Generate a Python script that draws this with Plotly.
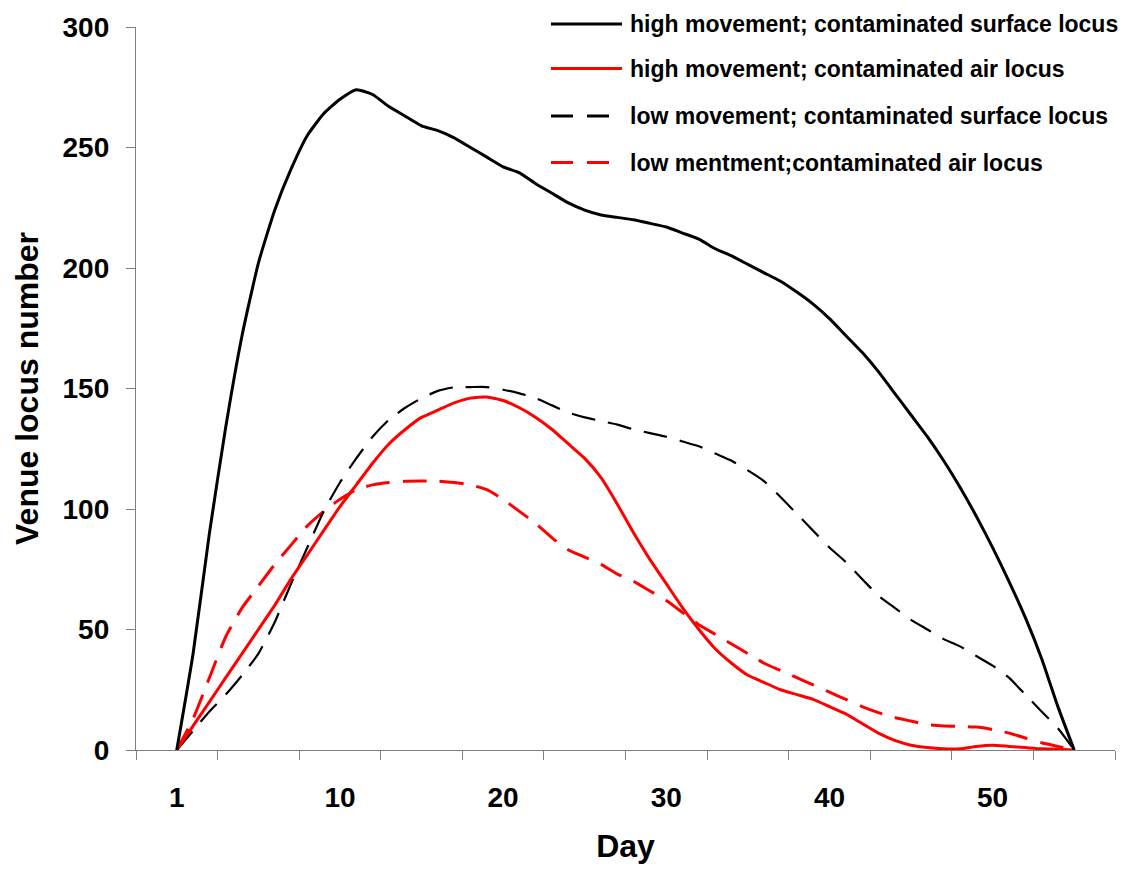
import plotly.graph_objects as go

# ---- data ----
day_index = list(range(56))
tick_positions = [0, 10, 20, 30, 40, 50]
tick_labels = ["1", "10", "20", "30", "40", "50"]

high_surface = [0, 40, 90, 134, 172, 202, 224, 241, 255, 264,
                270, 274, 272, 267, 263, 259, 257, 254, 250, 246,
                242, 239.5, 235, 231, 227, 224, 222, 221, 220, 218.5,
                217, 214.5, 212, 208, 205, 201.5, 198, 194.5, 190, 185,
                179, 172, 165, 157, 148, 139, 130, 120, 109, 97,
                84, 70, 55, 38, 18, 0]

high_air = [0, 10, 20, 30, 40, 50, 60, 71, 81, 91,
            101, 110, 119, 127, 133, 138, 141, 144, 146, 146.5,
            145, 142, 138, 133, 127, 121, 113, 102, 90, 79,
            69, 59, 50, 42, 36, 31, 28, 25, 23, 21,
            18, 15, 11, 7, 4, 2, 1, 0.5, 0.5, 1.5,
            2, 1.5, 1, 0.5, 0.3, 0]

low_surface = [0, 8, 16, 23, 31, 40, 53, 69, 84, 99,
               111, 121, 130, 137, 142, 146, 149, 150.5, 150.6, 150.6,
               149.5, 148, 146, 143, 140, 138, 136.5, 135, 133, 131.5,
               130, 128, 126, 123, 120, 116, 111.5, 105, 98, 91,
               84, 78, 71, 64, 59, 54, 50, 46, 43, 39,
               35, 30, 23, 16, 9, 0]

low_air = [0, 13, 30, 47, 59, 68, 77, 85, 93, 99,
           104, 108, 110, 111, 111.5, 111.6, 111.6, 111, 110, 108,
           104, 99, 94, 88, 83, 80, 77, 73, 70, 66,
           62, 57, 52, 48, 44, 40, 36, 33, 30, 27,
           24, 21, 18, 15.5, 13.5, 12, 10.5, 10, 9.8, 9.5,
           8.5, 7, 5, 3, 1.5, 0]

series_names = ["high movement; contaminated surface locus",
                "high movement; contaminated air locus",
                "low movement; contaminated surface locus",
                "low mentment;contaminated air locus"]

FONT = "Liberation Sans, Arial, sans-serif"
AXIS_COLOR = "#808080"
DASH = "24px,13px"

styles = [
    dict(color="black", width=3, dash="solid"),
    dict(color="#ff0000", width=3, dash="solid"),
    dict(color="black", width=2.2, dash=DASH),
    dict(color="#ff0000", width=3, dash=DASH),
]
series = [high_surface, high_air, low_surface, low_air]

fig = go.Figure()
# draw order: dashed first, solid on top
for idx in [3, 2, 1, 0]:
    fig.add_trace(go.Scatter(
        x=day_index, y=series[idx], mode="lines", name=series_names[idx],
        line=dict(shape="spline", smoothing=0.5, **styles[idx]),
        showlegend=False, hoverinfo="skip"))

# manual legend (Excel-like, long line samples)
plot_left, plot_right, plot_top, plot_bottom = 136, 1115, 21, 752
pw, ph = plot_right - plot_left, plot_bottom - plot_top
def px_x(px):
    return (px - plot_left) / pw
def px_y(py):
    return (plot_bottom - py) / ph

legend_rows = [18, 63, 111, 158]
shapes = []
annotations = []
for i, row in enumerate(legend_rows):
    st = styles[i]
    shapes.append(dict(type="line", xref="paper", yref="paper",
                       x0=px_x(551), x1=px_x(622), y0=px_y(row), y1=px_y(row),
                       line=dict(color=st["color"], width=3,
                                 dash=("solid" if st["dash"] == "solid" else "22px,14px"))))
    annotations.append(dict(xref="paper", yref="paper", x=px_x(628), y=px_y(row),
                            xanchor="left", yanchor="middle", showarrow=False,
                            text="<b>%s</b>" % series_names[i],
                            font=dict(family=FONT, size=23, color="black")))

fig.update_layout(
    width=1133, height=869,
    margin=dict(l=plot_left, r=1133 - plot_right, t=plot_top, b=869 - plot_bottom),
    paper_bgcolor="white", plot_bgcolor="white",
    font=dict(family=FONT, color="black"),
    shapes=shapes, annotations=annotations,
    showlegend=False,
    xaxis=dict(
        range=[-2.5, 57.5], tickmode="array", tickvals=tick_positions,
        ticktext=["<b>%s</b>" % t for t in tick_labels],
        ticks="", ticklabelstandoff=22,
        tickfont=dict(family=FONT, size=28, color="black"),
        showgrid=False, zeroline=False,
        showline=True, linecolor=AXIS_COLOR, linewidth=1.3,
        minor=dict(ticks="outside", ticklen=9, tickcolor=AXIS_COLOR, tickwidth=1.3,
                   tickmode="linear", tick0=-2.5, dtick=5, showgrid=False),
        title=dict(text="<b>Day</b>", font=dict(family=FONT, size=32, color="black"),
                   standoff=22),
    ),
    yaxis=dict(
        range=[0, 300], tickmode="linear", tick0=0, dtick=50,
        ticks="outside", ticklen=9, tickcolor=AXIS_COLOR, tickwidth=1.3,
        ticklabelstandoff=11,
        tickfont=dict(family=FONT, size=28, color="black"),
        tickprefix="<b>", ticksuffix="</b>",
        showgrid=False, zeroline=False,
        showline=True, linecolor=AXIS_COLOR, linewidth=1.3,
        title=dict(text="<b>Venue locus number</b>",
                   font=dict(family=FONT, size=32, color="black"), standoff=14),
    ),
)

fig.write_html("out.html")
